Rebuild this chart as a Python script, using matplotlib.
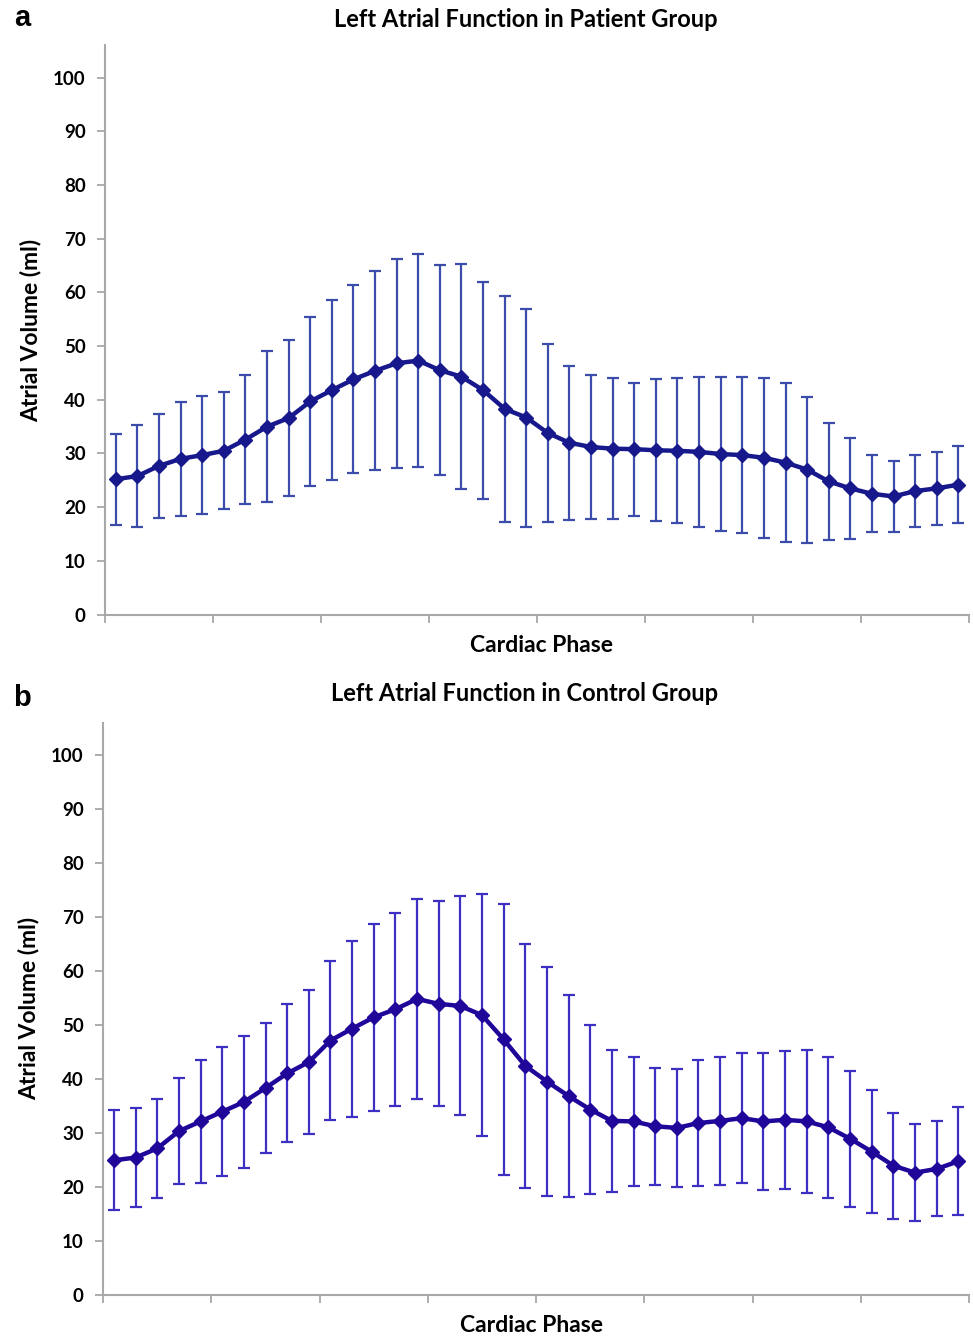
import matplotlib.pyplot as plt
import numpy as np

plt.rcParams['font.family'] = ['Lato', 'DejaVu Sans']

# patient group: mean and SD of atrial volume (ml) over 40 cardiac phases
patient_mean = [25.2, 25.8, 27.7, 29.0, 29.7, 30.5, 32.6, 35.0, 36.6, 39.7,
                41.8, 43.8, 45.4, 46.8, 47.3, 45.5, 44.3, 41.8, 38.3, 36.7,
                33.8, 32.0, 31.2, 30.9, 30.8, 30.6, 30.5, 30.3, 29.9, 29.7,
                29.2, 28.3, 27.0, 24.8, 23.5, 22.5, 22.0, 23.0, 23.5, 24.2]
patient_sd = [8.5, 9.5, 9.7, 10.6, 11.0, 10.9, 12.0, 14.0, 14.5, 15.7,
              16.7, 17.5, 18.5, 19.5, 19.8, 19.6, 20.9, 20.2, 21.0, 20.3,
              16.5, 14.3, 13.4, 13.1, 12.4, 13.2, 13.5, 14.0, 14.4, 14.6,
              14.9, 14.8, 13.6, 10.9, 9.4, 7.2, 6.6, 6.7, 6.8, 7.2]

# control group
control_mean = [24.9, 25.4, 27.1, 30.3, 32.1, 33.9, 35.7, 38.3, 41.0, 43.1,
                47.1, 49.3, 51.4, 52.9, 54.8, 53.9, 53.5, 51.8, 47.3, 42.4,
                39.5, 36.8, 34.3, 32.2, 32.1, 31.2, 30.9, 31.8, 32.2, 32.7,
                32.1, 32.4, 32.1, 31.0, 28.9, 26.5, 23.9, 22.6, 23.3, 24.7]
control_sd = [9.3, 9.2, 9.2, 9.8, 11.4, 12.0, 12.2, 12.1, 12.8, 13.4,
              14.8, 16.3, 17.3, 17.9, 18.6, 19.0, 20.3, 22.4, 25.1, 22.6,
              21.2, 18.8, 15.7, 13.2, 12.0, 10.8, 10.9, 11.6, 11.8, 12.0,
              12.7, 12.8, 13.3, 13.1, 12.6, 11.4, 9.8, 9.0, 8.8, 10.0]

phases = np.arange(len(patient_mean))

fig = plt.figure(figsize=(9.73, 13.36), dpi=100)

panels = [
    ('a', 'Left Atrial Function in Patient Group', patient_mean, patient_sd,
     '#16188c', '#3c4cab', [0.108, 0.540, 0.888, 0.426], 0.9865, 13, 0.505),
    ('b', 'Left Atrial Function in Control Group', control_mean, control_sd,
     '#21069a', '#3c2fc2', [0.106, 0.031, 0.890, 0.428], 0.4775, 16, 0.495),
]

for letter, title, mean, sd, line_col, err_col, rect, letter_y, tpad, xl_x in panels:
    ax = fig.add_axes(rect)
    ax.errorbar(phases, mean, yerr=sd, fmt='none', ecolor=err_col,
                elinewidth=1.6, capsize=4, capthick=1.6)
    ax.plot(phases, mean, color=line_col, lw=3.2, marker='D', ms=7.5,
            mfc=line_col, mec=line_col)
    ax.set_xlim(-0.5, len(mean) - 0.5)
    ax.set_ylim(0, 106)
    ax.set_yticks(range(0, 101, 10))
    ax.set_xticks(np.arange(-0.5, len(mean), 5))
    ax.set_xticklabels([])
    for s in ['top', 'right']:
        ax.spines[s].set_visible(False)
    for s in ['left', 'bottom']:
        ax.spines[s].set_color('#a8a8a8')
        ax.spines[s].set_linewidth(1.5)
    ax.tick_params(axis='both', direction='out', length=6, width=1.3,
                   color='#a8a8a8', labelsize=13.5, pad=8)
    for lab in ax.get_yticklabels():
        lab.set_fontweight('bold')
    ax.set_title(title, fontsize=17, fontweight='bold', pad=tpad, x=0.487)
    ax.set_xlabel('Cardiac Phase', fontsize=16.5, fontweight='bold',
                  labelpad=1, x=xl_x)
    ax.set_ylabel('Atrial Volume (ml)', fontsize=16.5, fontweight='bold', labelpad=8)
    fig.text(22 / 973, letter_y, letter, fontsize=21, fontweight='bold',
             ha='center', va='center', family=['Liberation Sans', 'DejaVu Sans'])

fig.savefig('out.png', dpi=100)
